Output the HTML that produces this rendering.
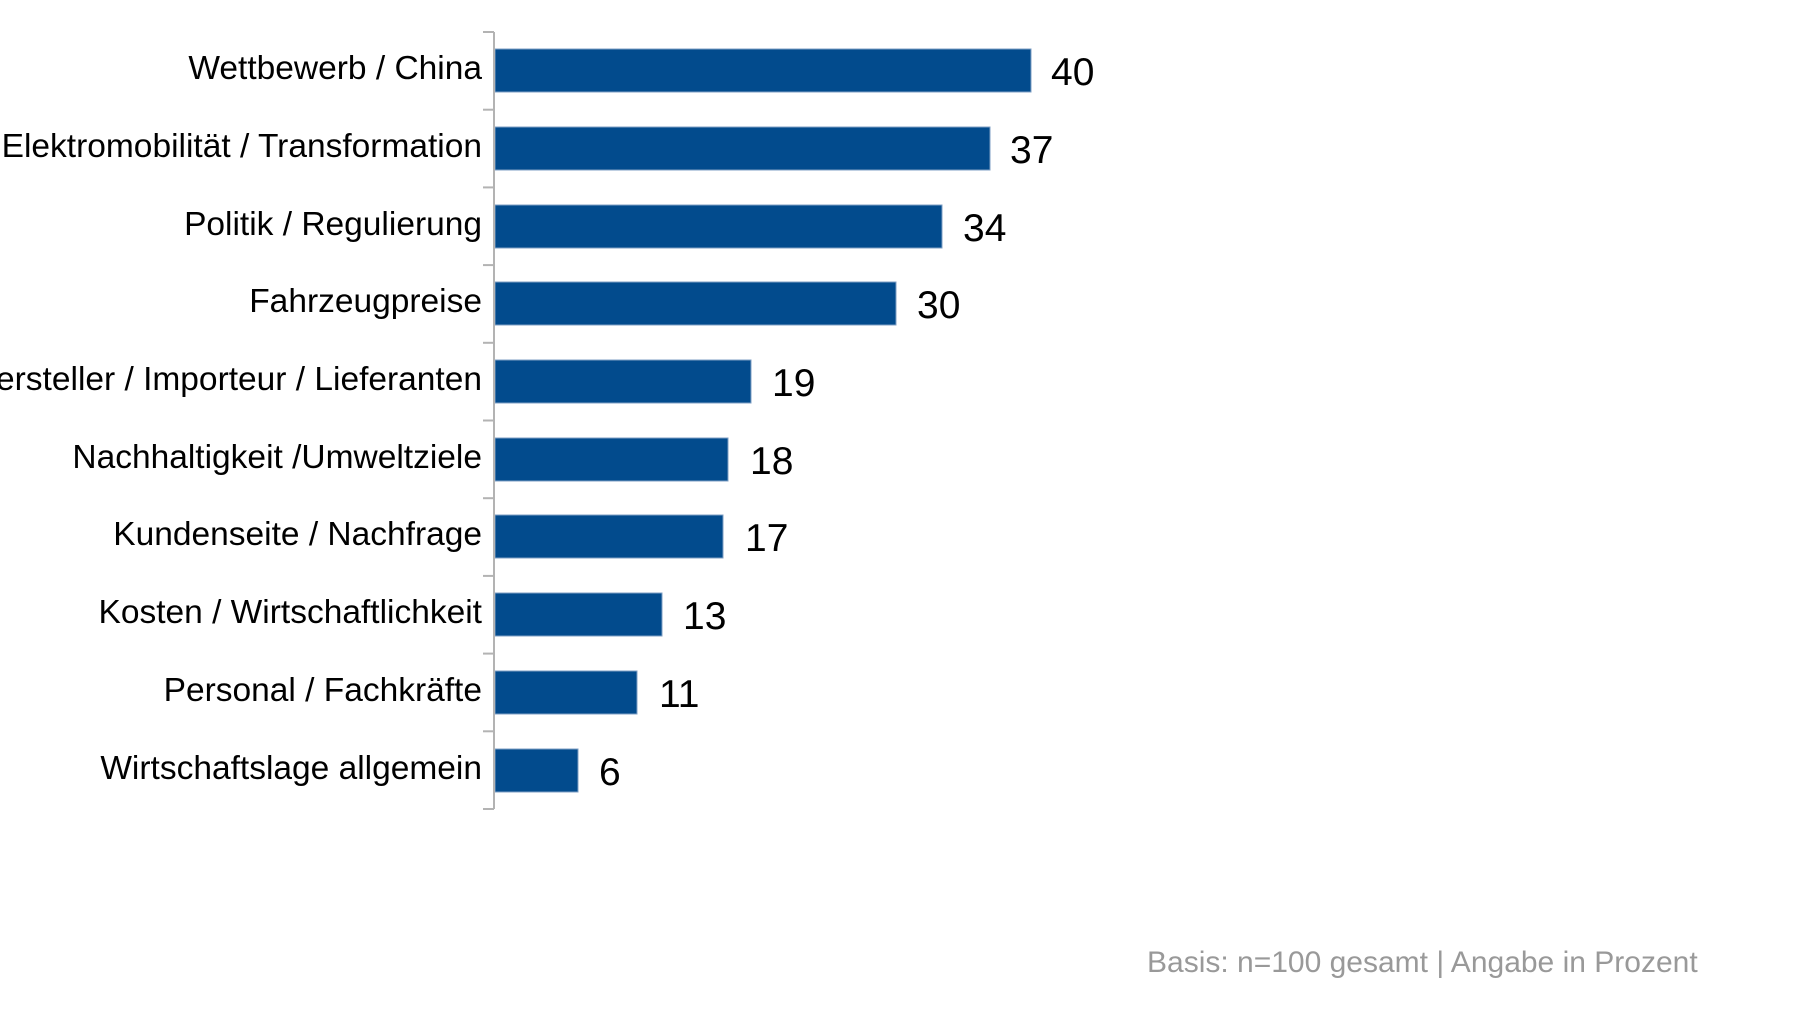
<!DOCTYPE html>
<html><head><meta charset="utf-8"><style>
html,body{margin:0;padding:0;background:#fff;}
svg{display:block;}
</style></head><body>
<svg width="1804" height="1015" viewBox="0 0 1804 1015" xmlns="http://www.w3.org/2000/svg" font-family="'Liberation Sans', Arial, sans-serif">
<g fill="#024b8d" stroke="#7f9fc4" stroke-width="1">
<rect x="495" y="49" width="536" height="43"/>
<rect x="495" y="127" width="495" height="43"/>
<rect x="495" y="205" width="447" height="43"/>
<rect x="495" y="282" width="401" height="43"/>
<rect x="495" y="360" width="256" height="43"/>
<rect x="495" y="438" width="233" height="43"/>
<rect x="495" y="515" width="228" height="43"/>
<rect x="495" y="593" width="167" height="43"/>
<rect x="495" y="671" width="142" height="43"/>
<rect x="495" y="749" width="83" height="43"/>
</g>
<g stroke="#b3b3b3" stroke-width="2" fill="none">
<line x1="494" y1="32" x2="494" y2="809"/>
<line x1="483" y1="32" x2="494" y2="32"/>
<line x1="483" y1="109.7" x2="494" y2="109.7"/>
<line x1="483" y1="187.4" x2="494" y2="187.4"/>
<line x1="483" y1="265.1" x2="494" y2="265.1"/>
<line x1="483" y1="342.8" x2="494" y2="342.8"/>
<line x1="483" y1="420.5" x2="494" y2="420.5"/>
<line x1="483" y1="498.2" x2="494" y2="498.2"/>
<line x1="483" y1="575.9" x2="494" y2="575.9"/>
<line x1="483" y1="653.6" x2="494" y2="653.6"/>
<line x1="483" y1="731.3" x2="494" y2="731.3"/>
<line x1="483" y1="809" x2="494" y2="809"/>
</g>
<g font-size="33.5" fill="#000" text-anchor="end">
<text x="482" y="79">Wettbewerb / China</text>
<text x="482" y="157">Elektromobilität / Transformation</text>
<text x="482" y="235">Politik / Regulierung</text>
<text x="482" y="312">Fahrzeugpreise</text>
<text x="482" y="390">Hersteller / Importeur / Lieferanten</text>
<text x="482" y="468">Nachhaltigkeit /Umweltziele</text>
<text x="482" y="545">Kundenseite / Nachfrage</text>
<text x="482" y="623">Kosten / Wirtschaftlichkeit</text>
<text x="482" y="701">Personal / Fachkräfte</text>
<text x="482" y="779">Wirtschaftslage allgemein</text>
</g>
<g font-size="39" fill="#000">
<text x="1051" y="85">40</text>
<text x="1010" y="163">37</text>
<text x="963" y="241">34</text>
<text x="917" y="318">30</text>
<text x="772" y="396">19</text>
<text x="750" y="474">18</text>
<text x="745" y="551">17</text>
<text x="683" y="629">13</text>
<text x="659" y="707">11</text>
<text x="599" y="785">6</text>
</g>
<text x="1147" y="972" font-size="30" fill="#999">Basis: n=100 gesamt | Angabe in Prozent</text>
</svg>
</body></html>
